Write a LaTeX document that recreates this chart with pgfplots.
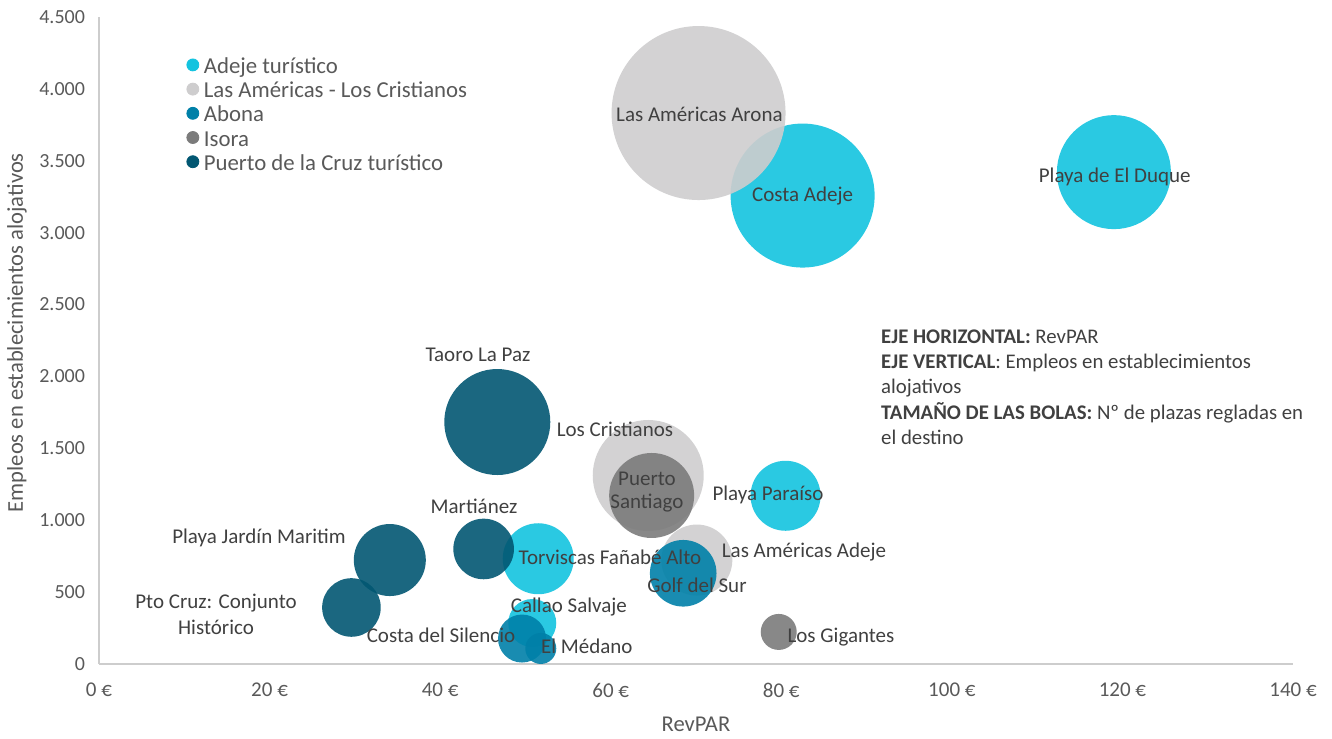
\documentclass[border=0pt]{standalone}
\usepackage{fontspec}
\setmainfont{Carlito}
\usepackage{pgfplots}
\usepackage{pgfplotstable}
\pgfplotsset{compat=1.18}

\definecolor{cAdeje}{RGB}{19,195,223}
\definecolor{cAmer}{RGB}{206,205,206}
\definecolor{cAbona}{RGB}{0,128,168}
\definecolor{cIsora}{RGB}{123,123,123}
\definecolor{cPuerto}{RGB}{2,87,114}
\definecolor{txt}{RGB}{64,64,64}
\definecolor{tickc}{RGB}{89,89,89}
\definecolor{axisgray}{RGB}{205,205,205}

% x = RevPAR (EUR), y = empleos, r = bubble radius (px in the reference)
\pgfplotstableread{
x y r
82.5 3258 72
119.0 3421 57
80.5 1170 35
51.5 732 35.5
50.8 285 24
}\adeje
\pgfplotstableread{
x y r
70.3 3832 87
64.4 1311 55.5
70.1 723 35.5
}\americas
\pgfplotstableread{
x y r
68.5 631 33.3
49.6 177 24
51.8 108 15.5
}\abona
\pgfplotstableread{
x y r
64.8 1172 42.5
79.7 223 18
}\isora
\pgfplotstableread{
x y r
46.7 1683 53
45.1 800 30.3
34.1 723 36
29.6 393 29.3
}\puerto

\pgfplotsset{bubble/.style={scatter, only marks, mark=*,
  scatter/use mapped color={draw opacity=0, fill=#1, fill opacity=0.9},
  visualization depends on={0.5*\thisrow{r} \as \rad},
  scatter/@pre marker code/.append style={/tikz/mark size=\rad},
  legend image code/.code={\fill[#1] (0,1.5pt) circle (3pt); \path (4.5pt,0);}}}

\begin{document}
\begin{tikzpicture}
\begin{axis}[
  scale only axis, width=597pt, height=323.5pt,
  xmin=0, xmax=140, ymin=0, ymax=4500,
  axis lines=left, axis line style={draw=axisgray, line width=0.7pt, -},
  xtick={0,20,40,60,80,100,120,140},
  xticklabels={0 €,20 €,40 €,60 €,80 €,100 €,120 €,140 €},
  ytick={0,500,1000,1500,2000,2500,3000,3500,4000,4500},
  yticklabels={0,500,1.000,1.500,2.000,2.500,3.000,3.500,4.000,4.500},
  major tick length=0pt,
  tick label style={text=tickc},
  xticklabel style={font=\fontsize{10.5}{12}\selectfont, yshift=-6pt},
  yticklabel style={font=\fontsize{10}{12}\selectfont, xshift=-3.5pt},
  xlabel={RevPAR}, ylabel={Empleos en establecimientos alojativos},
  every axis x label/.style={at={(axis description cs:0.5,-0.094)}, anchor=center},
  every axis y label/.style={at={(axis description cs:-0.0687,0.512)}, anchor=center, rotate=90},
  label style={font=\fontsize{11.3}{12}\selectfont, text=tickc},
  clip=false,
  legend style={at={(0.0729,0.9406)}, anchor=north west, draw=none, fill=none,
    inner sep=0pt, row sep=0pt,
    font=\fontsize{11.4}{12}\selectfont, text=tickc,
    nodes={inner sep=0.8pt, text height=8pt, text depth=2.5pt}},
  legend cell align=left,
]
\addplot[bubble=cAdeje] table {\adeje};
\addlegendentry{Adeje turístico}
\addplot[bubble=cAmer] table {\americas};
\addlegendentry{Las Américas - Los Cristianos}
\addplot[bubble=cAbona] table {\abona};
\addlegendentry{Abona}
\addplot[bubble=cIsora] table {\isora};
\addlegendentry{Isora}
\addplot[bubble=cPuerto] table {\puerto};
\addlegendentry{Puerto de la Cruz turístico}

% page margins as in the reference
\path (rel axis cs:0,0) ++(-49.5pt,-36.5pt);
\path (rel axis cs:1,1) ++(19.5pt,8.5pt);

% anchor points for the data labels
\coordinate (l1) at (axis cs:70.4,3825);
\coordinate (l2) at (axis cs:82.5,3255);
\coordinate (l3) at (axis cs:119.1,3387);
\coordinate (l4) at (axis cs:44.44,2149);
\coordinate (l5) at (axis cs:60.5,1634);
\coordinate (l6) at (axis cs:64.25,1196);
\coordinate (l7) at (axis cs:78.44,1175);
\coordinate (l8) at (axis cs:82.66,779);
\coordinate (l9) at (axis cs:70.11,549);
\coordinate (l10) at (axis cs:59.91,744);
\coordinate (l11) at (axis cs:43.97,1099);
\coordinate (l12) at (axis cs:18.76,876);
\coordinate (l13) at (axis cs:13.72,348);
\coordinate (l14) at (axis cs:55.1,396);
\coordinate (l15) at (axis cs:40.1,202);
\coordinate (l16) at (axis cs:57.2,125);
\coordinate (l17) at (axis cs:87.0,190);
\coordinate (note) at (axis cs:91.67,2330);
\end{axis}

\begin{scope}[every node/.style={font=\fontsize{10.5}{11.5}\selectfont, text=txt, align=center, inner sep=0pt}]
\node at (l1) {Las Américas Arona};
\node at (l2) {Costa Adeje};
\node at (l3) {Playa de El Duque};
\node at (l4) {Taoro La Paz};
\node at (l5) {Los Cristianos};
\node at (l6) {Puerto\\Santiago};
\node at (l7) {Playa Paraíso};
\node at (l8) {Las Américas Adeje};
\node at (l9) {Golf del Sur};
\node at (l10) {Torviscas Fañabé Alto};
\node at (l11) {Martiánez};
\node at (l12) {Playa Jardín Maritim};
\node[font=\fontsize{10.5}{13}\selectfont] at (l13) {Pto Cruz: Conjunto\\Histórico};
\node at (l14) {Callao Salvaje};
\node at (l15) {Costa del Silencio};
\node at (l16) {El Médano};
\node at (l17) {Los Gigantes};
\node[anchor=north west, align=left, font=\fontsize{10.4}{12.7}\selectfont] at (note)
  {\textbf{EJE HORIZONTAL:} RevPAR\\
   \textbf{EJE VERTICAL}: Empleos en establecimientos\\
   alojativos\\
   \textbf{TAMAÑO DE LAS BOLAS:} Nº de plazas regladas en\\
   el destino};
\end{scope}
\end{tikzpicture}
\end{document}
